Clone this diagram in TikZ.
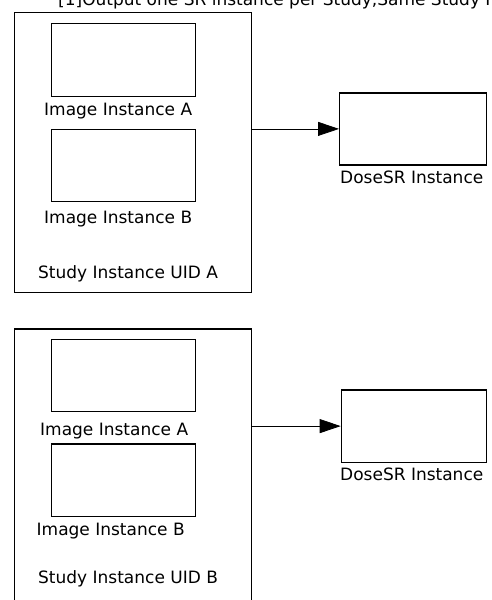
\documentclass[tikz,border=0pt]{standalone}
\usepackage{fontspec}
\setmainfont{DejaVu Sans}
\usetikzlibrary{arrows.meta}

\begin{document}
\begin{tikzpicture}[%
		x=1pt,y=-1pt,
		font=\fontsize{17}{20}\selectfont,
		box/.style={draw,line width=1.2pt,inner sep=0pt,anchor=north west},
		lbl/.style={anchor=base west,inner sep=0pt},
		arr/.style={line width=0.8pt,-{Triangle[length=21pt,width=14pt]}}]
		\useasboundingbox (0,0) rectangle (492,600);
		\node[lbl] (title) at (58,5) {[1]Output one SR instance per Study,Same Study Instance UID};
		% study A
		\node[box,minimum width=236.5,minimum height=280] (studyA) at (14,12) {};
		\node[box,minimum width=144.5,minimum height=73] (imgAA) at (50.5,23) {};
		\node[lbl] (lAA) at (44,115) {Image Instance A};
		\node[box,minimum width=144.5,minimum height=72.5] (imgAB) at (50.5,128.5) {};
		\node[lbl] (lAB) at (44,223) {Image Instance B};
		\node[lbl] (lSA) at (38,278) {Study Instance UID A};
		\node[box,minimum width=147,minimum height=72] (doseA) at (339,92.3) {};
		\node[lbl] (lDA) at (340,183.3) {DoseSR Instance};
		\draw[arr] (doseA.west -| studyA.east) -- (doseA.west);
		% study B
		\node[box,minimum width=236.5,minimum height=300] (studyB) at (14,328.3) {};
		\node[box,minimum width=144.5,minimum height=71.7] (imgBA) at (50.5,339) {};
		\node[lbl] (lBA) at (40,435) {Image Instance A};
		\node[box,minimum width=144.5,minimum height=72.4] (imgBB) at (50.5,443.3) {};
		\node[lbl] (lBB) at (36.5,535) {Image Instance B};
		\node[lbl] (lSB) at (38,583.3) {Study Instance UID B};
		\node[box,minimum width=145.3,minimum height=72.4] (doseB) at (340.7,389.3) {};
		\node[lbl] (lDB) at (340,480.7) {DoseSR Instance};
		\draw[arr] (doseB.west -| studyB.east) -- (doseB.west);
	\end{tikzpicture}
\end{document}
